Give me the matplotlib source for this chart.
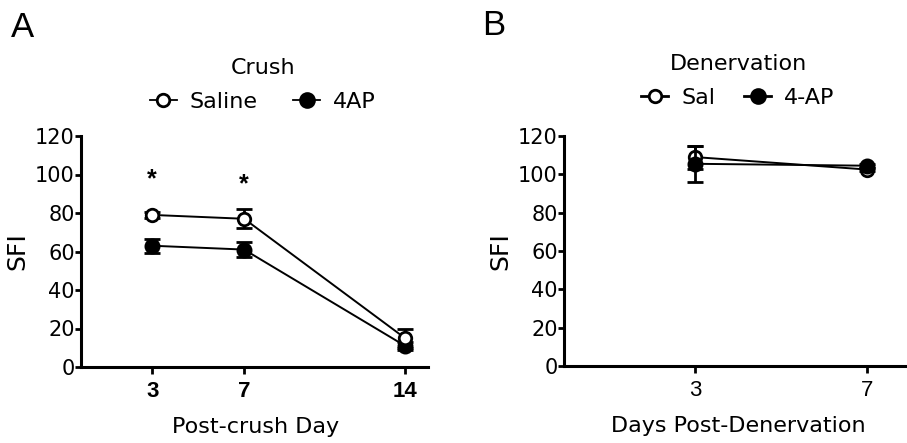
import matplotlib
matplotlib.use("Agg")
import matplotlib.pyplot as plt
from matplotlib.lines import Line2D

plt.rcParams['font.family'] = ['DejaVu Sans']

# ---- Panel A data (Crush) ----
crush_days = [3, 7, 14]
crush_saline = [79, 77, 15]
crush_saline_err = [1.5, 5, 5]
crush_4ap = [63, 61, 11]
crush_4ap_err = [3.7, 4, 2]
crush_sig_days = [3, 7]
crush_sig_y = [97.5, 95]
yticks = [0, 20, 40, 60, 80, 100, 120]

# ---- Panel B data (Denervation) ----
den_days = [3, 7]
den_sal = [109, 102.5]
den_sal_err = [6, 1]
den_4ap = [105.5, 104.5]
den_4ap_err = [9.5, 1]

W, H = 907, 443
fig = plt.figure(figsize=(W / 100, H / 100), dpi=100)

def px_axes(l, r, t, b):
    return fig.add_axes([l / W, 1 - b / H, (r - l) / W, (b - t) / H])

axA = px_axes(81, 428, 136, 367)
axB = px_axes(564, 907, 136, 366)

def style(ax, bold_x):
    for s in ['top', 'right']:
        ax.spines[s].set_visible(False)
    for s in ['left', 'bottom']:
        ax.spines[s].set_linewidth(2.2)
    ax.tick_params(axis='both', direction='out', width=2, colors='black')
    ax.tick_params(axis='y', length=4, pad=0.5, labelsize=15)
    ax.tick_params(axis='x', length=5, pad=5)
    ax.set_ylim(0, 120)
    ax.set_yticks(yticks)
    for lab in ax.get_xticklabels():
        lab.set_fontfamily('Liberation Sans')
        lab.set_fontsize(16)
        if bold_x:
            lab.set_fontweight('bold')

def series(ax, x, y, e, filled, z):
    ax.errorbar(x, y, yerr=e, color='black', lw=1.4, elinewidth=2, capsize=5.5,
                capthick=2.5, marker='o', ms=9 if not filled else 9.5,
                mfc='black' if filled else 'white', mec='black', mew=2, zorder=z)

# Panel A
series(axA, crush_days, crush_4ap, crush_4ap_err, True, 3)
series(axA, crush_days, crush_saline, crush_saline_err, False, 4)
axA.set_xlim(-0.1, 15)
axA.set_xticks(crush_days)
style(axA, True)
for d, yv in zip(crush_sig_days, crush_sig_y):
    axA.text(d, yv, '*', ha='center', va='center', fontsize=18, fontweight='bold',
             family='Liberation Sans')
axA.set_ylabel('SFI', fontsize=18)
axA.yaxis.set_label_coords(-0.15, 0.5)
axA.set_xlabel('Post-crush Day', fontsize=16)
axA.xaxis.set_label_coords(0.504, -0.218)

hA = [Line2D([], [], color='black', lw=1.3, marker='o', ms=9, mfc='white', mec='black', mew=2),
      Line2D([], [], color='black', lw=1.3, marker='o', ms=10, mfc='black', mec='black', mew=2)]
legA = axA.legend(hA, ['Saline', '4AP'], title='Crush', ncol=2, frameon=False,
                  fontsize=16, title_fontsize=16, handlelength=1.2, handletextpad=0.6,
                  columnspacing=1.6, loc='center', bbox_to_anchor=(263 / W, 1 - 85 / H),
                  bbox_transform=fig.transFigure, borderpad=0, labelspacing=0.6)

# Panel B
series(axB, den_days, den_sal, den_sal_err, False, 3)
series(axB, den_days, den_4ap, den_4ap_err, True, 4)
axB.set_xlim(-0.05, 7.93)
axB.set_xticks(den_days)
style(axB, False)
axB.set_ylabel('SFI', fontsize=18)
axB.yaxis.set_label_coords(-0.15, 0.5)
axB.set_xlabel('Days Post-Denervation', fontsize=16)
axB.xaxis.set_label_coords(0.507, -0.218)

hB = [Line2D([], [], color='black', lw=2, marker='o', ms=9, mfc='white', mec='black', mew=2),
      Line2D([], [], color='black', lw=2, marker='o', ms=10, mfc='black', mec='black', mew=2)]
legB = axB.legend(hB, ['Sal', '4-AP'], title='Denervation', ncol=2, frameon=False,
                  fontsize=16, title_fontsize=16, handlelength=1.2, handletextpad=0.6,
                  columnspacing=1.3, loc='center', bbox_to_anchor=(738 / W, 1 - 81 / H),
                  bbox_transform=fig.transFigure, borderpad=0, labelspacing=0.6)

fig.text(11 / W, 1 - 37 / H, 'A', fontsize=25, ha='left', va='baseline', family='Liberation Sans')
fig.text(482 / W, 1 - 35 / H, 'B', fontsize=25, ha='left', va='baseline', family='Liberation Sans')

fig.savefig('out.png', dpi=100)
